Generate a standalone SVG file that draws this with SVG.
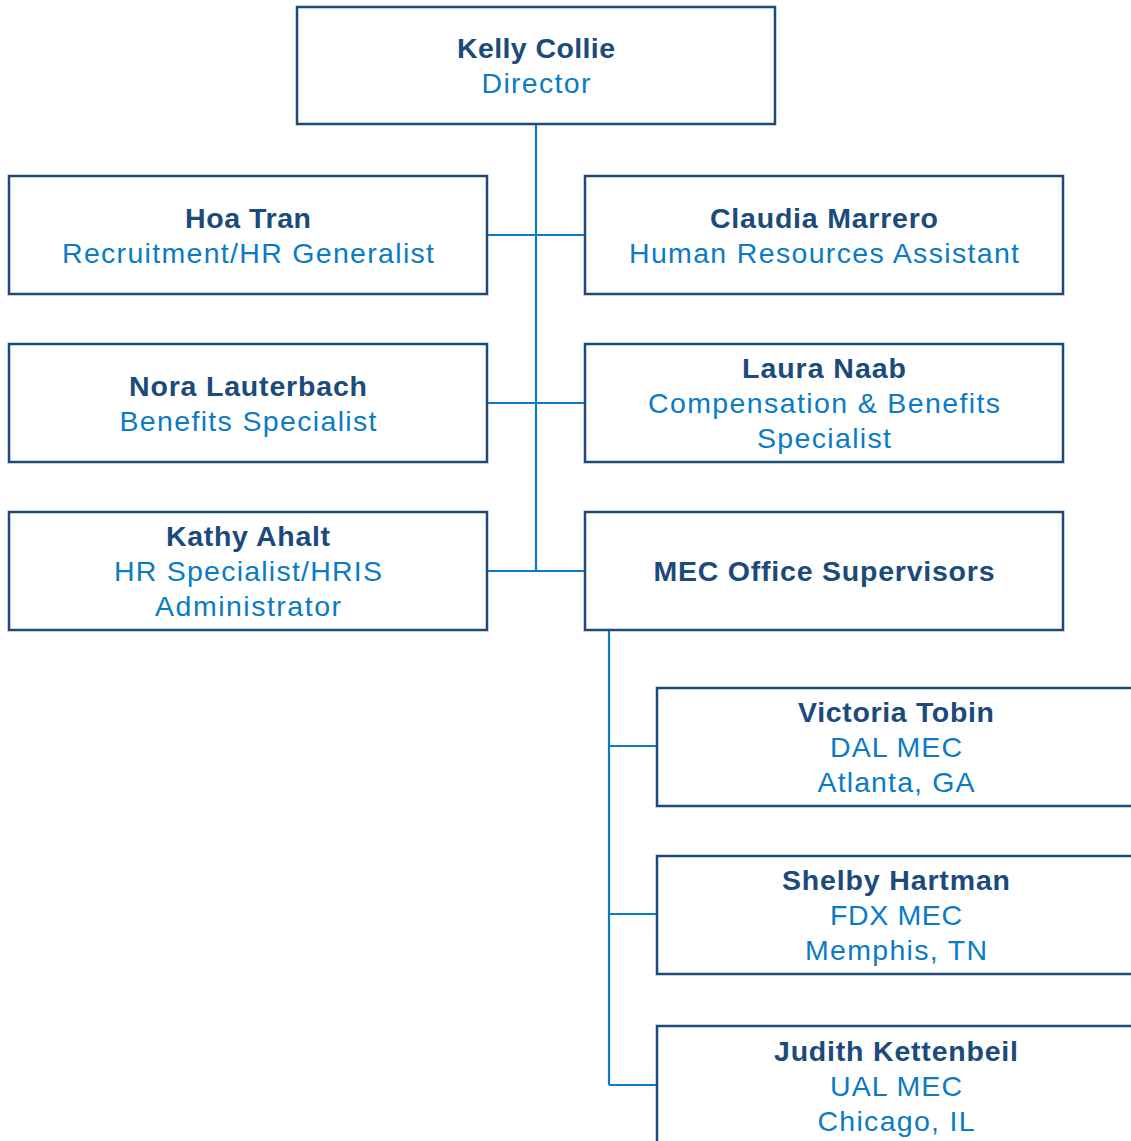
<svg xmlns="http://www.w3.org/2000/svg" width="1131" height="1141" viewBox="0 0 1131 1141">
<style>
.box{fill:#fff;stroke:#1b4a7b;stroke-width:2.5}
.n{font-family:"Liberation Sans",Arial,sans-serif;font-size:28.5px;font-weight:bold;fill:#1b4a7b;text-anchor:middle}
.t{font-family:"Liberation Sans",Arial,sans-serif;font-size:28.5px;fill:#0a7bc4;text-anchor:middle}
.c{stroke:#0a7bc4;stroke-width:2.2;fill:none}
</style>
<rect width="1131" height="1141" fill="#fff"/>
<g id="connectors">
<path class="c" d="M536 124V571M487 235H585M487 403H585M487 571H585M609 630V1085M609 746H657M609 914H657M609 1085H657"/>
</g>
<g id="kelly"><rect class="box" x="297" y="7" width="478" height="117"/><text class="n" x="536" y="58" textLength="158" lengthAdjust="spacing">Kelly Collie</text><text class="t" x="536" y="93" textLength="109" lengthAdjust="spacing">Director</text></g>
<g id="hoa"><rect class="box" x="9" y="176" width="478" height="118"/><text class="n" x="248" y="228" textLength="126" lengthAdjust="spacing">Hoa Tran</text><text class="t" x="248" y="263" textLength="372" lengthAdjust="spacing">Recruitment/HR Generalist</text></g>
<g id="claudia"><rect class="box" x="585" y="176" width="478" height="118"/><text class="n" x="824" y="228" textLength="228" lengthAdjust="spacing">Claudia Marrero</text><text class="t" x="824" y="263" textLength="390" lengthAdjust="spacing">Human Resources Assistant</text></g>
<g id="nora"><rect class="box" x="9" y="344" width="478" height="118"/><text class="n" x="248" y="396" textLength="238" lengthAdjust="spacing">Nora Lauterbach</text><text class="t" x="248" y="431" textLength="257" lengthAdjust="spacing">Benefits Specialist</text></g>
<g id="laura"><rect class="box" x="585" y="344" width="478" height="118"/><text class="n" x="824" y="378" textLength="164" lengthAdjust="spacing">Laura Naab</text><text class="t" x="824" y="413" textLength="352" lengthAdjust="spacing">Compensation &amp; Benefits</text><text class="t" x="824" y="448" textLength="134" lengthAdjust="spacing">Specialist</text></g>
<g id="kathy"><rect class="box" x="9" y="512" width="478" height="118"/><text class="n" x="248" y="546" textLength="164" lengthAdjust="spacing">Kathy Ahalt</text><text class="t" x="248" y="581" textLength="268" lengthAdjust="spacing">HR Specialist/HRIS</text><text class="t" x="248" y="616" textLength="186" lengthAdjust="spacing">Administrator</text></g>
<g id="mec"><rect class="box" x="585" y="512" width="478" height="118"/><text class="n" x="824" y="581" textLength="341" lengthAdjust="spacing">MEC Office Supervisors</text></g>
<g id="victoria"><rect class="box" x="657" y="688" width="478" height="118"/><text class="n" x="896" y="722" textLength="196" lengthAdjust="spacing">Victoria Tobin</text><text class="t" x="896" y="757" textLength="132" lengthAdjust="spacing">DAL MEC</text><text class="t" x="896" y="792" textLength="157" lengthAdjust="spacing">Atlanta, GA</text></g>
<g id="shelby"><rect class="box" x="657" y="856" width="478" height="118"/><text class="n" x="896" y="890" textLength="228" lengthAdjust="spacing">Shelby Hartman</text><text class="t" x="896" y="925" textLength="132" lengthAdjust="spacing">FDX MEC</text><text class="t" x="896" y="960" textLength="182" lengthAdjust="spacing">Memphis, TN</text></g>
<g id="judith"><rect class="box" x="657" y="1026" width="478" height="118"/><text class="n" x="896" y="1061" textLength="244" lengthAdjust="spacing">Judith Kettenbeil</text><text class="t" x="896" y="1096" textLength="132" lengthAdjust="spacing">UAL MEC</text><text class="t" x="896" y="1131" textLength="157" lengthAdjust="spacing">Chicago, IL</text></g>
</svg>
